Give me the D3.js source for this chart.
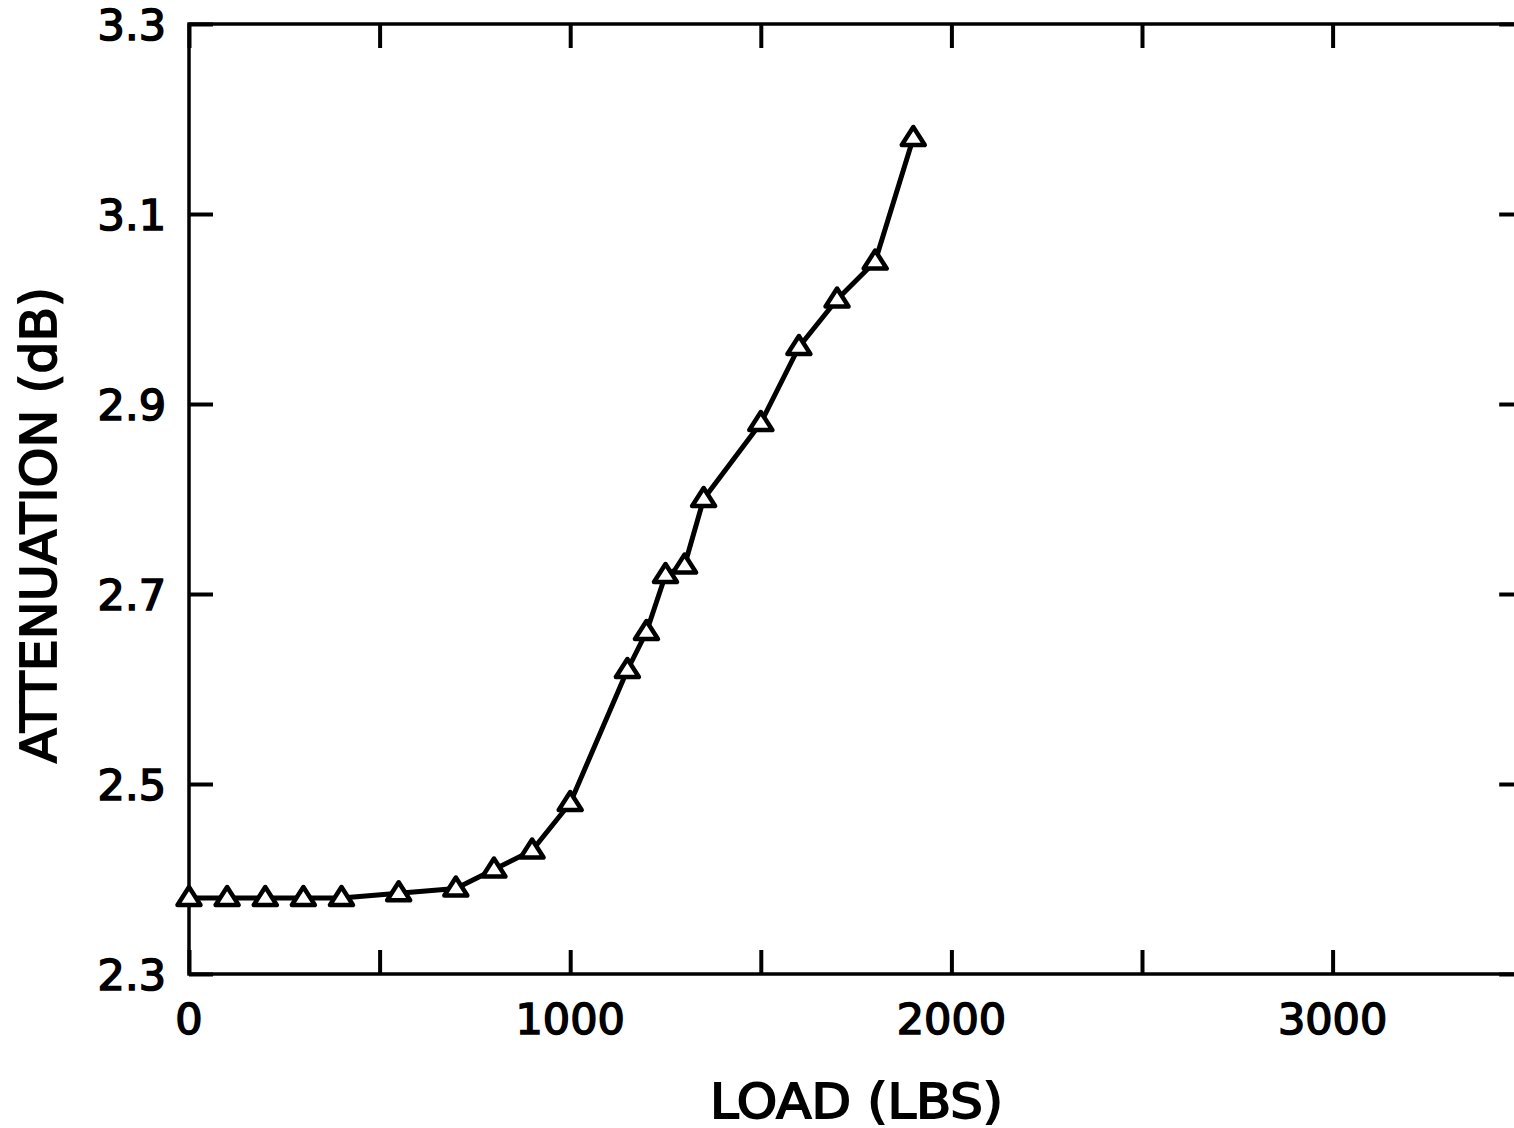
<!DOCTYPE html>
<html>
<head>
<meta charset="utf-8">
<script src="https://d3js.org/d3.v7.min.js"></script>
<style>
  html, body { margin: 0; padding: 0; background: #ffffff; }
</style>
</head>
<body>
<div id="chart"></div>
<script>
// load (lbs) vs attenuation (dB)
var loads = [0, 100, 200, 300, 400, 550, 700, 800, 900, 1000, 1150, 1200, 1250, 1300, 1350, 1500, 1600, 1700, 1800, 1900];
var attenuation = [2.38, 2.38, 2.38, 2.38, 2.38, 2.385, 2.39, 2.41, 2.43, 2.48, 2.62, 2.66, 2.72, 2.73, 2.80, 2.88, 2.96, 3.01, 3.05, 3.18];

var xTicks = [0, 500, 1000, 1500, 2000, 2500, 3000, 3500];
var xTickLabels = [0, 1000, 2000, 3000];
var yTicks = [2.3, 2.5, 2.7, 2.9, 3.1, 3.3];

var xTitle = "LOAD (LBS)";
var yTitle = "ATTENUATION (dB)";

function draw_chart(d3) {
    var width = 1514, height = 1128;
    var left = 189, top = 24, bottom = 974;
    var tickLen = 24;

    var x = d3.scaleLinear().domain([0, 3500]).range([left, left + 3.5 * 381.2]);
    var y = d3.scaleLinear().domain([2.3, 3.3]).range([bottom, top]);
    var right = x(3500);

    var svg = d3.select("#chart").append("svg")
        .attr("width", width)
        .attr("height", height)
        .style("background-color", "white");

    var font = "'DejaVu Sans', sans-serif";

    // frame
    svg.append("rect")
        .attr("x", left)
        .attr("y", top)
        .attr("width", right - left)
        .attr("height", bottom - top)
        .attr("fill", "none")
        .attr("stroke", "#000")
        .attr("stroke-width", 3.5);

    // axes with inward ticks, built from d3 axis generators
    var bottomAxis = svg.append("g")
        .attr("transform", "translate(0," + bottom + ")")
        .call(d3.axisBottom(x).tickValues(xTicks).tickSizeInner(-tickLen).tickSizeOuter(0).tickFormat(""));
    var topAxis = svg.append("g")
        .attr("transform", "translate(0," + top + ")")
        .call(d3.axisTop(x).tickValues(xTicks).tickSizeInner(-tickLen).tickSizeOuter(0).tickFormat(""));
    var leftAxis = svg.append("g")
        .attr("transform", "translate(" + left + ",0)")
        .call(d3.axisLeft(y).tickValues(yTicks).tickSizeInner(-tickLen).tickSizeOuter(0).tickFormat(""));
    var rightAxis = svg.append("g")
        .attr("transform", "translate(" + right + ",0)")
        .call(d3.axisRight(y).tickValues(yTicks).tickSizeInner(-tickLen).tickSizeOuter(0).tickFormat(""));

    [bottomAxis, topAxis, leftAxis, rightAxis].forEach(function(g) {
        g.select(".domain").remove();
        g.selectAll("line").attr("stroke", "#000").attr("stroke-width", 4);
    });

    // tick labels
    svg.append("g")
        .selectAll("text")
        .data(xTickLabels)
        .enter()
        .append("text")
        .attr("x", function(d) { return x(d); })
        .attr("y", 1034)
        .attr("text-anchor", "middle")
        .style("font-family", font)
        .style("font-size", "43px")
        .attr("fill", "#000")
        .attr("stroke", "#000")
        .attr("stroke-width", 1.6)
        .text(function(d) { return d; });

    svg.append("g")
        .selectAll("text")
        .data(yTicks)
        .enter()
        .append("text")
        .attr("x", 166)
        .attr("y", function(d) { return y(d) + 16; })
        .attr("text-anchor", "end")
        .style("font-family", font)
        .style("font-size", "43px")
        .attr("fill", "#000")
        .attr("stroke", "#000")
        .attr("stroke-width", 1.6)
        .text(function(d) { return d.toFixed(1); });

    // axis titles
    svg.append("text")
        .attr("x", 710)
        .attr("y", 1118)
        .attr("textLength", 293)
        .attr("lengthAdjust", "spacingAndGlyphs")
        .style("font-family", font)
        .style("font-size", "48px")
        .attr("fill", "#000")
        .attr("stroke", "#000")
        .attr("stroke-width", 1.8)
        .text(xTitle);

    svg.append("text")
        .attr("transform", "translate(56,763) rotate(-90)")
        .attr("textLength", 476)
        .attr("lengthAdjust", "spacingAndGlyphs")
        .style("font-family", font)
        .style("font-size", "50px")
        .attr("fill", "#000")
        .attr("stroke", "#000")
        .attr("stroke-width", 1.8)
        .text(yTitle);

    // data line
    var pts = loads.map(function(d, i) { return [d, attenuation[i]]; });
    var line = d3.line()
        .x(function(d) { return x(d[0]); })
        .y(function(d) { return y(d[1]); });

    svg.append("path")
        .datum(pts)
        .attr("d", line)
        .attr("fill", "none")
        .attr("stroke", "#000")
        .attr("stroke-width", 5)
        .attr("stroke-linejoin", "round");

    // open triangle markers
    svg.append("g")
        .attr("class", "markers")
        .selectAll("path")
        .data(pts)
        .enter()
        .append("path")
        .attr("transform", function(d) {
            return "translate(" + x(d[0]) + "," + y(d[1]) + ")";
        })
        .attr("d", "M0,-11L11.5,7L-11.5,7Z")
        .attr("fill", "#fff")
        .attr("stroke", "#000")
        .attr("stroke-width", 4.5)
        .attr("stroke-linejoin", "round");
}

draw_chart(d3);
</script>
</body>
</html>
